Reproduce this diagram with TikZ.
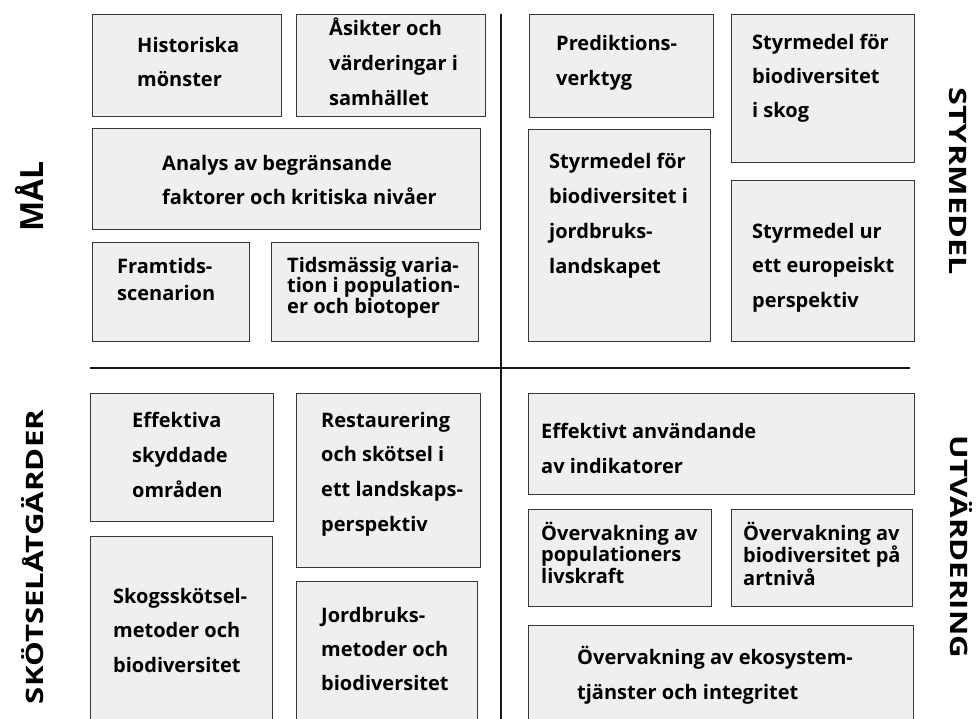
\documentclass[tikz,border=0pt]{standalone}
\usepackage{fontspec}
\usepackage{graphicx}
\setmainfont{Open Sans}
\definecolor{boxfill}{RGB}{239,239,239}
\definecolor{boxdraw}{RGB}{55,55,55}
\definecolor{linecol}{RGB}{25,25,25}
\newcommand\bxf[1]{\fontsize{20}{#1}\selectfont\bfseries}
\begin{document}
\begin{tikzpicture}[x=1pt,y=-1pt,
  box/.style={draw=boxdraw, fill=boxfill, line width=1.4pt, rectangle, inner sep=0pt, anchor=north west},
  txt/.style={anchor=north west, inner sep=0pt, align=left, text=black},
  sidelabel/.style={font=\fontsize{24}{28}\selectfont\bfseries, inner sep=0pt, anchor=base},
  sep/.style={draw=linecol, line width=1.4pt}]
\useasboundingbox (0,0) rectangle (977,718);
\clip (0,0) rectangle (977,718);
\newcommand\bx[5]{\node[box, minimum width={#4pt-#2pt}, minimum height={#5pt-#3pt}] (#1) at (#2,#3) {};}
% separators
\coordinate (hl) at (90,368); \coordinate (hr) at (910,368);
\coordinate (vt) at (501,14); \coordinate (vb) at (501,730);
\draw[sep] (hl) -- (hr);
\draw[sep] (vt) -- (vb);
% boxes
\bx{b1}{92}{14}{281}{116}
\bx{b2}{296}{14}{485}{116}
\bx{b3}{92}{128}{480}{229}
\bx{b4}{92}{242}{249}{341}
\bx{b5}{271}{242}{478}{341}
\bx{b6}{529}{14}{713}{117}
\bx{b7}{731}{14}{914}{162}
\bx{b8}{528}{129}{710}{341}
\bx{b9}{731}{180}{914}{341}
\bx{b10}{90}{393}{273}{521}
\bx{b11}{296}{393}{480}{567}
\bx{b12}{90}{536}{272}{730}
\bx{b13}{296}{581}{477}{730}
\bx{b14}{528}{393}{914}{494}
\bx{b15}{528}{509}{711}{606}
\bx{b16}{731}{509}{912}{606}
\bx{b17}{528}{625}{913}{730}
% texts (y = first baseline - 22)
\newcommand\R{\rule{0pt}{22pt}}
\node[txt, font=\bxf{34}] (t1) at (137,30) {\R Historiska\\mönster};
\node[txt, font=\bxf{35}] (t2) at (329,13) {\R Åsikter och\\värderingar i\\samhället};
\node[txt, font=\bxf{34}] (t3) at (162,148) {\R Analys av begränsande\\faktorer och kritiska nivåer};
\node[txt, font=\bxf{27}] (t4) at (117,251) {\R Framtids-\\scenarion};
\node[txt, font=\bxf{20.5}] (t5) at (287,250) {\R Tidsmässig varia-\\tion i population-\\er och biotoper};
\node[txt, font=\bxf{35}] (t6) at (556,28) {\R Prediktions-\\verktyg};
\node[txt, font=\bxf{34}] (t7) at (752,27) {\R Styrmedel för\\biodiversitet\\i skog};
\node[txt, font=\bxf{35}] (t8) at (549,146) {\R Styrmedel för\\biodiversitet i\\jordbruks-\\landskapet};
\node[txt, font=\bxf{34.5}] (t9) at (752,216) {\R Styrmedel ur\\ett europeiskt\\perspektiv};
\node[txt, font=\bxf{35}] (t10) at (132,405) {\R Effektiva\\skyddade\\områden};
\node[txt, font=\bxf{34.7}] (t11) at (321,405) {\R Restaurering\\och skötsel i\\ett landskaps-\\perspektiv};
\node[txt, font=\bxf{34.5}] (t12) at (113,581) {\R Skogsskötsel-\\metoder och\\biodiversitet};
\node[txt, font=\bxf{34}] (t13) at (321,600) {\R Jordbruks-\\metoder och\\biodiversitet};
\node[txt, font=\bxf{35}] (t14) at (541,416) {\R Effektivt användande\\av indikatorer};
\node[txt, font=\bxf{21.5}] (t15) at (541,518) {\R Övervakning av\\populationers\\livskraft};
\node[txt, font=\bxf{21.5}] (t16) at (743,518) {\R Övervakning av\\biodiversitet på\\artnivå};
\node[txt, font=\bxf{35}] (t17) at (577,642) {\R Övervakning av ekosystem-\\tjänster och integritet};
% side labels
\node[sidelabel, font=\fontsize{32}{36}\selectfont\bfseries, rotate=90] (lmal) at (43,196.5) {MÅL};
\node[sidelabel, rotate=-90] (lstyr) at (949,181) {\scalebox{1.35}[1]{STYRMEDEL}};
\node[sidelabel, rotate=90] (lskot) at (43,557) {\scalebox{1.30}[1]{SKÖTSELÅTGÄRDER}};
\node[sidelabel, rotate=-90] (lutv) at (950,547) {\scalebox{1.30}[1]{UTVÄRDERING}};
\end{tikzpicture}
\end{document}
